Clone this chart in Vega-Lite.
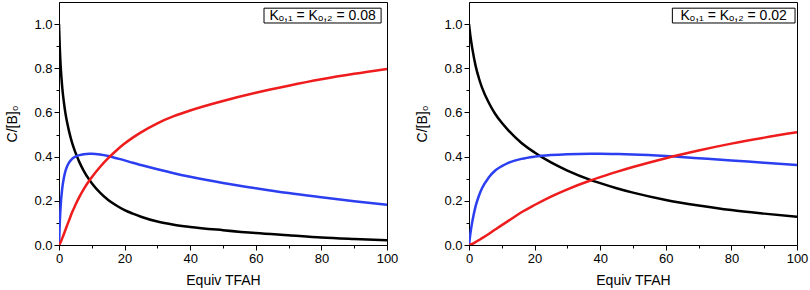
{
  "$schema": "https://vega.github.io/schema/vega-lite/v6.json",
  "padding": {"left": 5, "top": 1, "right": 5, "bottom": 5},
  "background": "white",
  "bounds": "flush",
  "spacing": 82,
  "config": {
    "font": "Liberation Sans",
    "view": {"stroke": "black", "strokeWidth": 1},
    "axis": {
      "grid": false,
      "domainColor": "black",
      "tickColor": "black",
      "labelColor": "black",
      "titleColor": "black",
      "labelFont": "Liberation Sans",
      "titleFont": "Liberation Sans",
      "labelFontSize": 13,
      "titleFontSize": 14,
      "titleFontWeight": "normal",
      "labelPadding": 2,
      "tickSize": 5
    }
  },
  "datasets": {
    "left": [
      {"x": 0, "s": "B", "y": 1}, {"x": 0.25, "s": "B", "y": 0.89}, {"x": 0.5, "s": "B", "y": 0.812}, {"x": 1, "s": "B", "y": 0.711}, {"x": 1.5, "s": "B", "y": 0.645}, {"x": 2, "s": "B", "y": 0.593}, {"x": 2.5, "s": "B", "y": 0.553}, {"x": 3, "s": "B", "y": 0.519}, {"x": 4, "s": "B", "y": 0.462}, {"x": 5, "s": "B", "y": 0.419}, {"x": 6.25, "s": "B", "y": 0.374}, {"x": 7.5, "s": "B", "y": 0.337}, {"x": 9.25, "s": "B", "y": 0.295}, {"x": 10, "s": "B", "y": 0.28}, {"x": 12.5, "s": "B", "y": 0.237}, {"x": 15, "s": "B", "y": 0.204}, {"x": 17.5, "s": "B", "y": 0.179}, {"x": 20, "s": "B", "y": 0.158}, {"x": 22.5, "s": "B", "y": 0.142}, {"x": 25, "s": "B", "y": 0.128}, {"x": 30, "s": "B", "y": 0.106}, {"x": 35, "s": "B", "y": 0.092}, {"x": 40, "s": "B", "y": 0.082}, {"x": 50, "s": "B", "y": 0.067}, {"x": 60, "s": "B", "y": 0.054}, {"x": 70, "s": "B", "y": 0.044}, {"x": 80, "s": "B", "y": 0.034}, {"x": 90, "s": "B", "y": 0.027}, {"x": 100, "s": "B", "y": 0.021},
      {"x": 0, "s": "BH", "y": 0}, {"x": 0.25, "s": "BH", "y": 0.105}, {"x": 0.5, "s": "BH", "y": 0.175}, {"x": 1, "s": "BH", "y": 0.258}, {"x": 1.5, "s": "BH", "y": 0.305}, {"x": 2, "s": "BH", "y": 0.337}, {"x": 2.5, "s": "BH", "y": 0.357}, {"x": 3, "s": "BH", "y": 0.372}, {"x": 4, "s": "BH", "y": 0.39}, {"x": 5, "s": "BH", "y": 0.4}, {"x": 6.25, "s": "BH", "y": 0.407}, {"x": 7.5, "s": "BH", "y": 0.411}, {"x": 9.25, "s": "BH", "y": 0.413}, {"x": 10, "s": "BH", "y": 0.413}, {"x": 12.5, "s": "BH", "y": 0.41}, {"x": 15, "s": "BH", "y": 0.403}, {"x": 17.5, "s": "BH", "y": 0.393}, {"x": 20, "s": "BH", "y": 0.383}, {"x": 22.5, "s": "BH", "y": 0.372}, {"x": 25, "s": "BH", "y": 0.362}, {"x": 30, "s": "BH", "y": 0.343}, {"x": 35, "s": "BH", "y": 0.325}, {"x": 40, "s": "BH", "y": 0.309}, {"x": 50, "s": "BH", "y": 0.281}, {"x": 60, "s": "BH", "y": 0.257}, {"x": 70, "s": "BH", "y": 0.235}, {"x": 80, "s": "BH", "y": 0.216}, {"x": 90, "s": "BH", "y": 0.198}, {"x": 100, "s": "BH", "y": 0.182},
      {"x": 0, "s": "BH2", "y": 0}, {"x": 0.25, "s": "BH2", "y": 0.005}, {"x": 0.5, "s": "BH2", "y": 0.013}, {"x": 1, "s": "BH2", "y": 0.031}, {"x": 1.5, "s": "BH2", "y": 0.05}, {"x": 2, "s": "BH2", "y": 0.07}, {"x": 2.5, "s": "BH2", "y": 0.09}, {"x": 3, "s": "BH2", "y": 0.109}, {"x": 4, "s": "BH2", "y": 0.148}, {"x": 5, "s": "BH2", "y": 0.181}, {"x": 6.25, "s": "BH2", "y": 0.219}, {"x": 7.5, "s": "BH2", "y": 0.252}, {"x": 9.25, "s": "BH2", "y": 0.292}, {"x": 10, "s": "BH2", "y": 0.307}, {"x": 12.5, "s": "BH2", "y": 0.353}, {"x": 15, "s": "BH2", "y": 0.393}, {"x": 17.5, "s": "BH2", "y": 0.428}, {"x": 20, "s": "BH2", "y": 0.459}, {"x": 22.5, "s": "BH2", "y": 0.486}, {"x": 25, "s": "BH2", "y": 0.51}, {"x": 30, "s": "BH2", "y": 0.551}, {"x": 35, "s": "BH2", "y": 0.583}, {"x": 40, "s": "BH2", "y": 0.609}, {"x": 50, "s": "BH2", "y": 0.652}, {"x": 60, "s": "BH2", "y": 0.689}, {"x": 70, "s": "BH2", "y": 0.721}, {"x": 80, "s": "BH2", "y": 0.75}, {"x": 90, "s": "BH2", "y": 0.775}, {"x": 100, "s": "BH2", "y": 0.797}
    ],
    "right": [
      {"x": 0, "s": "B", "y": 1}, {"x": 0.5, "s": "B", "y": 0.938}, {"x": 1, "s": "B", "y": 0.89}, {"x": 2, "s": "B", "y": 0.812}, {"x": 3, "s": "B", "y": 0.756}, {"x": 4, "s": "B", "y": 0.711}, {"x": 6, "s": "B", "y": 0.645}, {"x": 8, "s": "B", "y": 0.593}, {"x": 10, "s": "B", "y": 0.553}, {"x": 12, "s": "B", "y": 0.519}, {"x": 16, "s": "B", "y": 0.462}, {"x": 20, "s": "B", "y": 0.419}, {"x": 25, "s": "B", "y": 0.374}, {"x": 30, "s": "B", "y": 0.337}, {"x": 37, "s": "B", "y": 0.295}, {"x": 40, "s": "B", "y": 0.28}, {"x": 45, "s": "B", "y": 0.257}, {"x": 50, "s": "B", "y": 0.237}, {"x": 60, "s": "B", "y": 0.204}, {"x": 70, "s": "B", "y": 0.179}, {"x": 80, "s": "B", "y": 0.158}, {"x": 90, "s": "B", "y": 0.142}, {"x": 100, "s": "B", "y": 0.128},
      {"x": 0, "s": "BH", "y": 0}, {"x": 0.5, "s": "BH", "y": 0.06}, {"x": 1, "s": "BH", "y": 0.105}, {"x": 2, "s": "BH", "y": 0.175}, {"x": 3, "s": "BH", "y": 0.222}, {"x": 4, "s": "BH", "y": 0.258}, {"x": 6, "s": "BH", "y": 0.305}, {"x": 8, "s": "BH", "y": 0.337}, {"x": 10, "s": "BH", "y": 0.357}, {"x": 12, "s": "BH", "y": 0.372}, {"x": 16, "s": "BH", "y": 0.39}, {"x": 20, "s": "BH", "y": 0.4}, {"x": 25, "s": "BH", "y": 0.407}, {"x": 30, "s": "BH", "y": 0.411}, {"x": 37, "s": "BH", "y": 0.413}, {"x": 40, "s": "BH", "y": 0.413}, {"x": 45, "s": "BH", "y": 0.412}, {"x": 50, "s": "BH", "y": 0.41}, {"x": 60, "s": "BH", "y": 0.403}, {"x": 70, "s": "BH", "y": 0.393}, {"x": 80, "s": "BH", "y": 0.383}, {"x": 90, "s": "BH", "y": 0.372}, {"x": 100, "s": "BH", "y": 0.362},
      {"x": 0, "s": "BH2", "y": 0}, {"x": 0.5, "s": "BH2", "y": 0.002}, {"x": 1, "s": "BH2", "y": 0.005}, {"x": 2, "s": "BH2", "y": 0.013}, {"x": 3, "s": "BH2", "y": 0.022}, {"x": 4, "s": "BH2", "y": 0.031}, {"x": 6, "s": "BH2", "y": 0.05}, {"x": 8, "s": "BH2", "y": 0.07}, {"x": 10, "s": "BH2", "y": 0.09}, {"x": 12, "s": "BH2", "y": 0.109}, {"x": 16, "s": "BH2", "y": 0.148}, {"x": 20, "s": "BH2", "y": 0.181}, {"x": 25, "s": "BH2", "y": 0.219}, {"x": 30, "s": "BH2", "y": 0.252}, {"x": 37, "s": "BH2", "y": 0.292}, {"x": 40, "s": "BH2", "y": 0.307}, {"x": 45, "s": "BH2", "y": 0.331}, {"x": 50, "s": "BH2", "y": 0.353}, {"x": 60, "s": "BH2", "y": 0.393}, {"x": 70, "s": "BH2", "y": 0.428}, {"x": 80, "s": "BH2", "y": 0.459}, {"x": 90, "s": "BH2", "y": 0.486}, {"x": 100, "s": "BH2", "y": 0.51}
    ],
    "boxLeft": [{"x1": 62.5, "x2": 98.2, "y1": 1.005, "y2": 1.072, "xc": 80.35, "yc": 1.038, "label": "Kₒ,₁ = Kₒ,₂ = 0.08"}],
    "boxRight": [{"x1": 62, "x2": 99.4, "y1": 1.005, "y2": 1.072, "xc": 80.7, "yc": 1.038, "label": "Kₒ,₁ = Kₒ,₂ = 0.02"}]
  },
  "hconcat": [
    {
      "width": 328,
      "height": 243,
      "resolve": {"axis": {"x": "independent", "y": "independent"}},
      "layer": [
        {
          "data": {"name": "left"},
          "mark": {"type": "line", "strokeWidth": 2.5, "interpolate": "monotone", "clip": true},
          "encoding": {
            "x": {"field": "x", "type": "quantitative", "scale": {"domain": [0, 100], "nice": false},
              "axis": {"orient": "bottom", "title": "Equiv TFAH", "values": [0, 20, 40, 60, 80, 100], "tickSize": 5, "titlePadding": 8, "labelFlush": false}},
            "y": {"field": "y", "type": "quantitative", "scale": {"domain": [0, 1.1], "nice": false},
              "axis": {"orient": "left", "title": "C/[B]₀", "values": [0, 0.2, 0.4, 0.6, 0.8, 1.0], "format": ".1f", "tickSize": 5, "titlePadding": 14, "labelFlush": false}},
            "color": {"field": "s", "type": "nominal", "scale": {"domain": ["B", "BH", "BH2"], "range": ["#000000", "#2b3ef0", "#ee1c1c"]}, "legend": null}
          }
        },
        {
          "data": {"name": "boxLeft"},
          "mark": {"type": "rect", "fill": "white", "stroke": "black", "strokeWidth": 1},
          "encoding": {
            "x": {"field": "x1", "type": "quantitative", "axis": {"orient": "bottom", "values": [10, 30, 50, 70, 90], "labels": false, "domain": false, "title": null, "tickSize": 3}},
            "x2": {"field": "x2"},
            "y": {"field": "y1", "type": "quantitative", "axis": {"orient": "left", "values": [0.1, 0.3, 0.5, 0.7, 0.9], "labels": false, "domain": false, "title": null, "tickSize": 3}},
            "y2": {"field": "y2"}
          }
        },
        {
          "data": {"name": "boxLeft"},
          "mark": {"type": "text", "fontSize": 14, "font": "Liberation Sans", "color": "black", "align": "center", "baseline": "middle"},
          "encoding": {"x": {"field": "xc", "type": "quantitative", "axis": null}, "y": {"field": "yc", "type": "quantitative", "axis": null}, "text": {"field": "label"}}
        }
      ]
    },
    {
      "width": 328,
      "height": 243,
      "resolve": {"axis": {"x": "independent", "y": "independent"}},
      "layer": [
        {
          "data": {"name": "right"},
          "mark": {"type": "line", "strokeWidth": 2.5, "interpolate": "monotone", "clip": true},
          "encoding": {
            "x": {"field": "x", "type": "quantitative", "scale": {"domain": [0, 100], "nice": false},
              "axis": {"orient": "bottom", "title": "Equiv TFAH", "values": [0, 20, 40, 60, 80, 100], "tickSize": 5, "titlePadding": 8, "labelFlush": false}},
            "y": {"field": "y", "type": "quantitative", "scale": {"domain": [0, 1.1], "nice": false},
              "axis": {"orient": "left", "title": "C/[B]₀", "values": [0, 0.2, 0.4, 0.6, 0.8, 1.0], "format": ".1f", "tickSize": 5, "titlePadding": 14, "labelFlush": false}},
            "color": {"field": "s", "type": "nominal", "scale": {"domain": ["B", "BH", "BH2"], "range": ["#000000", "#2b3ef0", "#ee1c1c"]}, "legend": null}
          }
        },
        {
          "data": {"name": "boxRight"},
          "mark": {"type": "rect", "fill": "white", "stroke": "black", "strokeWidth": 1},
          "encoding": {
            "x": {"field": "x1", "type": "quantitative", "axis": {"orient": "bottom", "values": [10, 30, 50, 70, 90], "labels": false, "domain": false, "title": null, "tickSize": 3}},
            "x2": {"field": "x2"},
            "y": {"field": "y1", "type": "quantitative", "axis": {"orient": "left", "values": [0.1, 0.3, 0.5, 0.7, 0.9], "labels": false, "domain": false, "title": null, "tickSize": 3}},
            "y2": {"field": "y2"}
          }
        },
        {
          "data": {"name": "boxRight"},
          "mark": {"type": "text", "fontSize": 14, "font": "Liberation Sans", "color": "black", "align": "center", "baseline": "middle"},
          "encoding": {"x": {"field": "xc", "type": "quantitative", "axis": null}, "y": {"field": "yc", "type": "quantitative", "axis": null}, "text": {"field": "label"}}
        }
      ]
    }
  ]
}
